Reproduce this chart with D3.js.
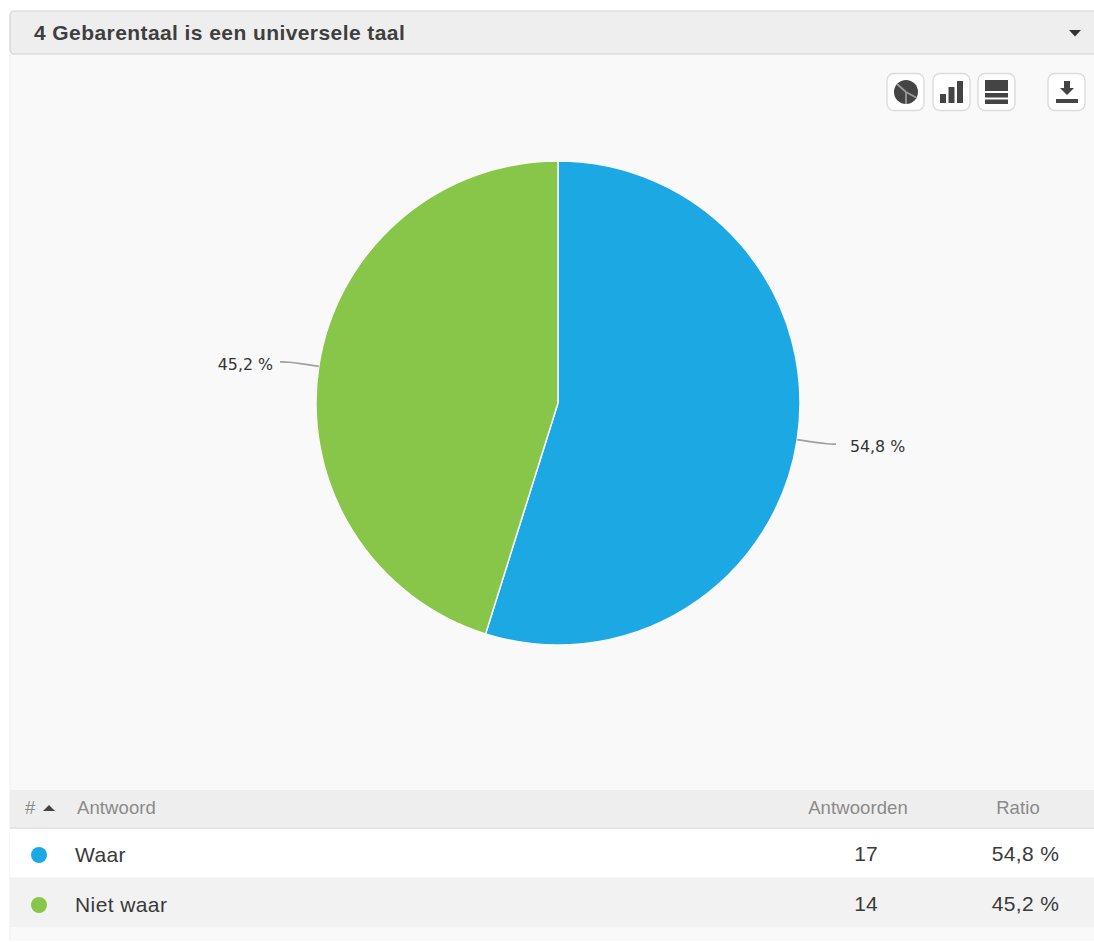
<!DOCTYPE html>
<html>
<head>
<meta charset="utf-8">
<script src="https://cdn.jsdelivr.net/npm/d3@7"></script>
<style>
html, body { margin: 0; padding: 0; background: #fff; }
svg { display: block; }
text { font-family: "Liberation Sans", Arial, sans-serif; }
</style>
</head>
<body>
<svg width="1094" height="942"></svg>
<script>
//* Data
var title = "4 Gebarentaal is een universele taal";
var categories = ["Waar", "Niet waar"];
var answers = [17, 14];
var ratios = ["54,8 %", "45,2 %"];
var colors = ["#1ca8e3", "#88c64a"];
var columns = ["#", "Antwoord", "Antwoorden", "Ratio"];

var svg = d3.select("svg");
var panelX = 10, width = 1094;

//* Panel and header bar
svg.append("rect").attr("x", panelX).attr("y", 54).attr("width", width - panelX).attr("height", 887).attr("fill", "#f9f9f9");
svg.append("line").attr("x1", panelX).attr("x2", panelX).attr("y1", 54).attr("y2", 941).attr("stroke", "#efefef");
svg.append("rect").attr("x", panelX).attr("y", 11).attr("width", width).attr("height", 43).attr("rx", 4)
	.attr("fill", "#eeeeee").attr("stroke", "#d2d2d2").attr("stroke-width", 1.2);
svg.append("text").attr("x", 34).attr("y", 40).attr("font-size", 21).attr("font-weight", "bold")
	.attr("letter-spacing", 0.42).attr("fill", "#3f3f3f").text(title);
svg.append("path").attr("d", "M1069,30L1081,30L1075,36.5Z").attr("fill", "#333");

//* Pie
var cx = 558, cy = 403, radius = 242;
var pie = d3.pie().sort(null).value(function(d) { return d; });
var arc = d3.arc().innerRadius(0).outerRadius(radius);
var slices = pie(answers);
var chart = svg.append("g").attr("transform", "translate(" + cx + "," + cy + ")");

chart.selectAll("path.slice")
	.data(slices)
	.enter()
	.append("path")
	.attr("class", "slice")
	.attr("d", arc)
	.attr("fill", function(d, i) { return colors[i]; })
	.attr("stroke", "#f9f9f9")
	.attr("stroke-width", 1.5);

/* leader lines, start on the pie edge and flatten out */
var leader = d3.line().curve(d3.curveBasis);
function edge(d, r) {
	var a = (d.startAngle + d.endAngle) / 2;
	return [r * Math.sin(a), -r * Math.cos(a)];
}
function side(d) {
	return edge(d, 1)[0] > 0 ? 1 : -1;
}
chart.selectAll("path.leader")
	.data(slices)
	.enter()
	.append("path")
	.attr("class", "leader")
	.attr("fill", "none")
	.attr("stroke", "#a0a0a0")
	.attr("stroke-width", 1.6)
	.attr("d", function(d) {
		var p0 = edge(d, radius), p1 = edge(d, radius + 20), dir = side(d);
		return leader([p0, p1, [p1[0] + dir * 10, p1[1] + dir * 1.2], [p1[0] + dir * 19, p1[1] + dir * 1.5]]);
	});
chart.selectAll("text.label")
	.data(slices)
	.enter()
	.append("text")
	.attr("class", "label")
	.attr("x", function(d) { return edge(d, radius + 20)[0] + (side(d) > 0 ? 33 : -26); })
	.attr("y", function(d) { return edge(d, radius + 20)[1] + (side(d) > 0 ? 9.5 : 6.5); })
	.attr("text-anchor", function(d) { return side(d) > 0 ? "start" : "end"; })
	.attr("font-size", 15.8)
	.attr("fill", "#333")
	.style("font-family", "'DejaVu Sans', sans-serif")
	.text(function(d, i) { return ratios[i]; });

//* Toolbar buttons
var dark = "#444";
[887, 933, 978, 1048].forEach(function(x) {
	svg.append("rect").attr("x", x).attr("y", 73.5).attr("width", 37).attr("height", 37).attr("rx", 7)
		.attr("fill", "#fff").attr("stroke", "#dcdcdc").attr("stroke-width", 1.4);
});
/* pie icon */
svg.append("circle").attr("cx", 906).attr("cy", 92).attr("r", 12).attr("fill", dark);
[[-9, -8], [11, 6], [0, 12]].forEach(function(p) {
	svg.append("line").attr("x1", 906).attr("y1", 92).attr("x2", 906 + p[0]).attr("y2", 92 + p[1])
		.attr("stroke", "#9a9a9a").attr("stroke-width", 1.8);
});
/* bar icon */
[[940, 94], [948.5, 87], [957, 81]].forEach(function(b) {
	svg.append("rect").attr("x", b[0]).attr("y", b[1]).attr("width", 6).attr("height", 103 - b[1]).attr("fill", dark);
});
/* table icon */
[[80, 11], [93, 4.5], [99.5, 4.5]].forEach(function(r) {
	svg.append("rect").attr("x", 985).attr("y", r[0]).attr("width", 23).attr("height", r[1]).attr("fill", dark);
});
/* download icon */
svg.append("path").attr("d", "M1064,81L1070,81L1070,88L1074,88L1067,95L1060,88L1064,88Z").attr("fill", dark);
svg.append("rect").attr("x", 1056).attr("y", 99).attr("width", 22).attr("height", 4).attr("fill", dark);

//* Table
svg.append("rect").attr("x", panelX).attr("y", 790).attr("width", width).attr("height", 38).attr("fill", "#eeeeee");
svg.append("rect").attr("x", panelX).attr("y", 827).attr("width", width).attr("height", 2).attr("fill", "#e6e6e6");
svg.append("rect").attr("x", panelX).attr("y", 829).attr("width", width).attr("height", 48.5).attr("fill", "#fff");
svg.append("rect").attr("x", panelX).attr("y", 877.5).attr("width", width).attr("height", 49.5).attr("fill", "#f2f2f2");

var headX = [25, 77, 858, 1018];
var headAnchor = ["start", "start", "middle", "middle"];
svg.selectAll("text.head")
	.data(columns)
	.enter()
	.append("text")
	.attr("class", "head")
	.attr("x", function(d, i) { return headX[i]; })
	.attr("y", 814)
	.attr("text-anchor", function(d, i) { return headAnchor[i]; })
	.attr("font-size", 18.5)
	.attr("letter-spacing", 0.1)
	.attr("fill", "#8a8a8a")
	.text(function(d) { return d; });
svg.append("path").attr("d", "M43,811L55,811L49,805Z").attr("fill", "#444");

var rowY = [853.5, 903.5];
var rows = svg.selectAll("g.row")
	.data(categories)
	.enter()
	.append("g")
	.attr("class", "row")
	.attr("transform", function(d, i) { return "translate(0," + rowY[i] + ")"; });
rows.append("circle").attr("cx", 39).attr("cy", 1.5).attr("r", 8)
	.attr("fill", function(d, i) { return colors[i]; });
rows.append("text").attr("x", 75).attr("y", 8).attr("font-size", 21).attr("letter-spacing", 0.4).attr("fill", "#3a3a3a")
	.text(function(d) { return d; });
rows.append("text").attr("x", 866).attr("y", 7).attr("text-anchor", "middle").attr("font-size", 21).attr("fill", "#3a3a3a")
	.text(function(d, i) { return answers[i]; });
rows.append("text").attr("x", 1025.5).attr("y", 7).attr("text-anchor", "middle").attr("font-size", 21).attr("letter-spacing", 0.35).attr("fill", "#3a3a3a")
	.text(function(d, i) { return ratios[i]; });
</script>
</body>
</html>
